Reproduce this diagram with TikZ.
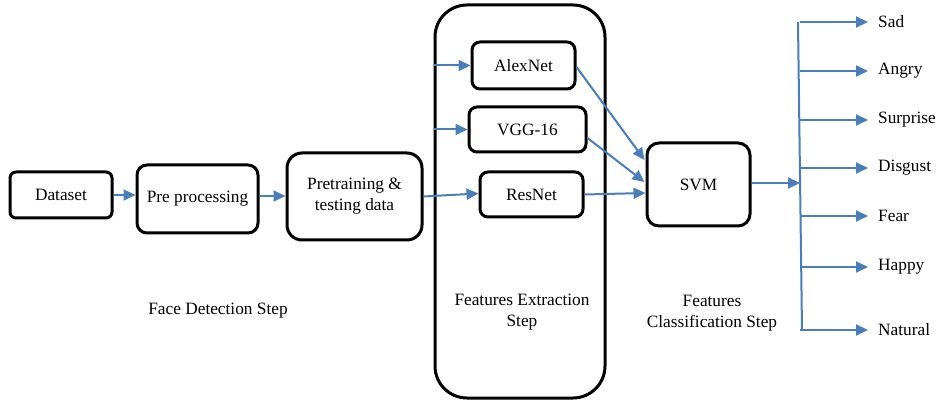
\documentclass[tikz,border=0pt]{standalone}
\usepackage{fontspec}
\newfontfamily\tms{Liberation Serif}
\usetikzlibrary{arrows.meta,calc}
\definecolor{arrowblue}{RGB}{74,126,187}
\tikzset{
  box/.style={draw=black,line width=3pt,align=center,inner sep=0pt},
  conn/.style={draw=arrowblue,line width=2pt,-{Triangle[length=12pt,width=11pt]}},
  plain/.style={draw=arrowblue,line width=2pt},
  lbl/.style={anchor=west,inner xsep=10pt,inner ysep=0pt},
  steplbl/.style={align=center,inner sep=0pt}
}
\begin{document}
\begin{tikzpicture}[x=1pt,y=-1pt,font=\tms\fontsize{17.3}{21}\selectfont]
\useasboundingbox (0,0) rectangle (940,403);
% boxes
\node[box,minimum width=102pt,minimum height=46pt,rounded corners=6pt] (dataset) at (61,195) {Dataset};
\node[box,minimum width=121pt,minimum height=68pt,rounded corners=10pt] (pre) at (197.5,199) {Pre processing};
\node[box,minimum width=135pt,minimum height=87pt,rounded corners=15pt] (pretrain) at (354.5,196.5) {Pretraining \&\\testing data};
\node[box,minimum width=170pt,minimum height=393pt,rounded corners=32pt] (big) at (520,201.5) {};
\node[box,minimum width=103pt,minimum height=47pt,rounded corners=8pt] (alex) at (523.5,65.5) {AlexNet};
\node[box,minimum width=117pt,minimum height=45pt,rounded corners=8pt] (vgg) at (527.5,129.5) {VGG-16};
\node[box,minimum width=103pt,minimum height=45pt,rounded corners=8pt] (res) at (531.5,194.5) {ResNet};
\node[box,minimum width=103pt,minimum height=83pt,rounded corners=12pt] (svm) at (698.5,184.5) {SVM};
% step labels
\node[steplbl] (face) at (218,311) {Face Detection Step};
\node[steplbl] (fext) at (522,312) {Features Extraction\\Step};
\node[steplbl] (fcls) at (712,313) {Features\\Classification Step};
% arrows in the left chain
\draw[conn] (dataset.east) -- (dataset.east -| pre.west);
\draw[conn] ([yshift=3pt]pre.east) -- ([yshift=3pt]pre.east -| pretrain.west);
\draw[conn] (pretrain.east) -- ([yshift=1pt]res.west);
\coordinate (inA) at (big.west |- alex.west);
\coordinate (inV) at (big.west |- vgg.west);
\draw[conn] (inA) -- (alex.west);
\draw[conn] (inV) -- (vgg.west);
% to SVM
\draw[conn] ([yshift=-1.5pt]alex.east) -- ([xshift=-1pt,yshift=24.5pt]svm.west);
\draw[conn] ([yshift=-8.5pt]vgg.east) -- ([xshift=-1pt,yshift=2.5pt]svm.west);
\draw[conn] (res.east) -- ([yshift=-8.5pt]svm.west);
% output
\coordinate (hub) at (800,183);
\draw[conn] ([yshift=1.5pt]svm.east) -- (hub);
\coordinate (vtop) at (798,22);
\coordinate (vbot) at (802,330);
\draw[plain] (vtop) -- (vbot);
\node[lbl] (sad) at (868,22) {Sad};
\node[lbl] (angry) at (868,71) {Angry};
\node[lbl] (surprise) at (868,120) {Surprise};
\node[lbl] (disgust) at (868,168) {Disgust};
\node[lbl] (fear) at (868,216) {Fear};
\node[lbl] (happy) at (868,267) {Happy};
\node[lbl] (natural) at (868,330) {Natural};
\foreach \n/\y in {sad/22,angry/71,surprise/120,disgust/168,fear/216,happy/267,natural/330}{
  \coordinate (b-\n) at (800,\y);
  \draw[conn] (b-\n) -- (\n.west);
}
\end{tikzpicture}
\end{document}
